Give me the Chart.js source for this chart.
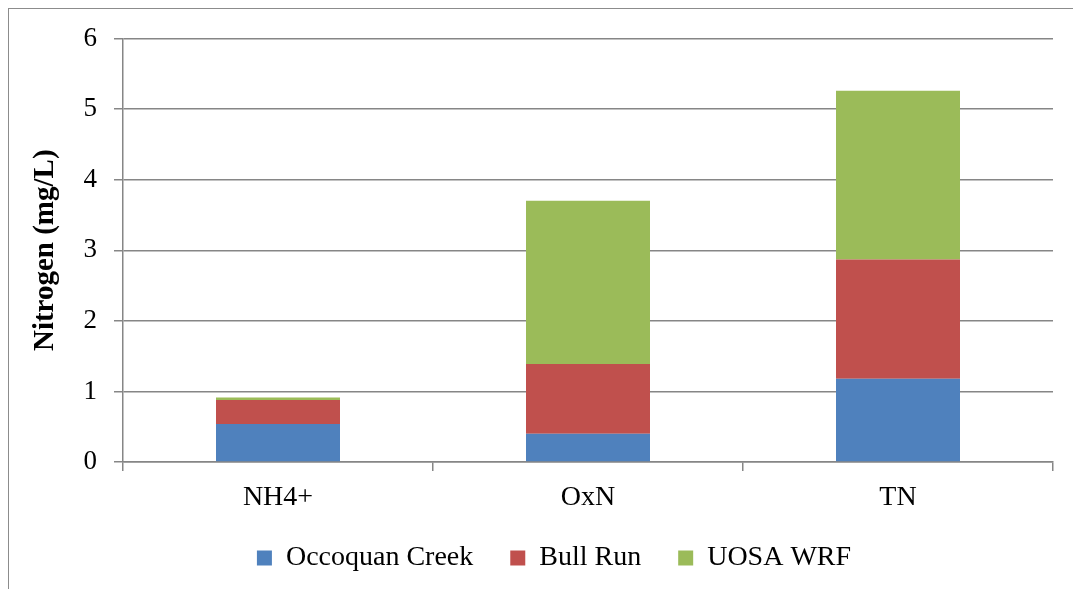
<!DOCTYPE html>
<html>
    <head>
        <title>Nitrogen</title>
        <meta name="viewport" content="width=device-width, initial-scale=1.0">
        <style>
            html, body { margin: 0; padding: 0; background: #fff; overflow: hidden; }
            #frame { position: absolute; left: 8px; top: 8px; width: 1200px; height: 700px;
                     border-left: 1.5px solid #8c8c8c; border-top: 1.5px solid #8c8c8c; }
            #wrap { position: absolute; left: 0; top: 0; width: 1073px; height: 589px; }
        </style>
    </head>
    <body>
        <div id="frame"></div>
        <div id="wrap"><canvas id="myChart"></canvas></div>

        <script src="https://cdn.jsdelivr.net/npm/chart.js@4/dist/chart.umd.min.js"></script>
        <script>
            // data
            let categories = ['NH4+', 'OxN', 'TN'];
            let occoquanCreek = [0.54, 0.40, 1.18];
            let bullRun = [0.34, 0.99, 1.69];
            let uosaWrf = [0.035, 2.31, 2.39];
            let yTicks = [0, 1, 2, 3, 4, 5, 6];

            let serif = '"Liberation Serif", "Times New Roman", serif';
            let gridColor = '#868686';

            // move the legend so it sits where the original one is
            let legendShift = {
                id: 'legendShift',
                afterLayout: (chart) => {
                    chart.legend.left = 55;
                }
            };

            let ctx = document.getElementById('myChart').getContext('2d');
            let chart = new Chart(ctx, {
                type: 'bar',
                data: {
                    labels: categories,
                    datasets: [
                        { label: 'Occoquan Creek', data: occoquanCreek, backgroundColor: '#4F81BD' },
                        { label: 'Bull Run', data: bullRun, backgroundColor: '#C0504D' },
                        { label: 'UOSA WRF', data: uosaWrf, backgroundColor: '#9BBB59' }
                    ]
                },
                options: {
                    responsive: true,
                    maintainAspectRatio: false,
                    animation: false,
                    barPercentage: 0.4,
                    categoryPercentage: 1.0,
                    layout: { padding: { top: 38.5, right: 20, bottom: 7, left: 0 } },
                    plugins: {
                        tooltip: { enabled: false },
                        legend: {
                            position: 'bottom',
                            labels: {
                                boxWidth: 15,
                                boxHeight: 15,
                                padding: 37,
                                color: '#000',
                                font: { family: serif, size: 28 }
                            }
                        }
                    },
                    scales: {
                        x: {
                            stacked: true,
                            offset: true,
                            grid: {
                                offset: true,
                                drawOnChartArea: false,
                                drawTicks: true,
                                tickLength: 9,
                                color: gridColor,
                                lineWidth: 1.5
                            },
                            border: { display: true, color: gridColor, width: 1.5 },
                            ticks: {
                                color: '#000',
                                padding: 10,
                                maxRotation: 0,
                                font: { family: serif, size: 28 }
                            },
                            afterFit: (scale) => { scale.height = 45; }
                        },
                        y: {
                            stacked: true,
                            min: 0,
                            max: 6,
                            afterBuildTicks: (scale) => {
                                scale.ticks = yTicks.map(v => ({ value: v }));
                            },
                            grid: {
                                drawTicks: true,
                                tickLength: 9,
                                color: gridColor,
                                lineWidth: 1.5
                            },
                            border: { display: true, color: gridColor, width: 1.5 },
                            ticks: {
                                color: '#000',
                                padding: 17,
                                font: { family: serif, size: 27 }
                            },
                            title: {
                                display: true,
                                text: 'Nitrogen (mg/L)',
                                color: '#000',
                                padding: { top: 28, bottom: 0 },
                                font: { family: serif, size: 29, weight: 'bold' }
                            },
                            afterFit: (scale) => { scale.width = 123; }
                        }
                    }
                },
                plugins: [legendShift]
            });
        </script>
    </body>
</html>
